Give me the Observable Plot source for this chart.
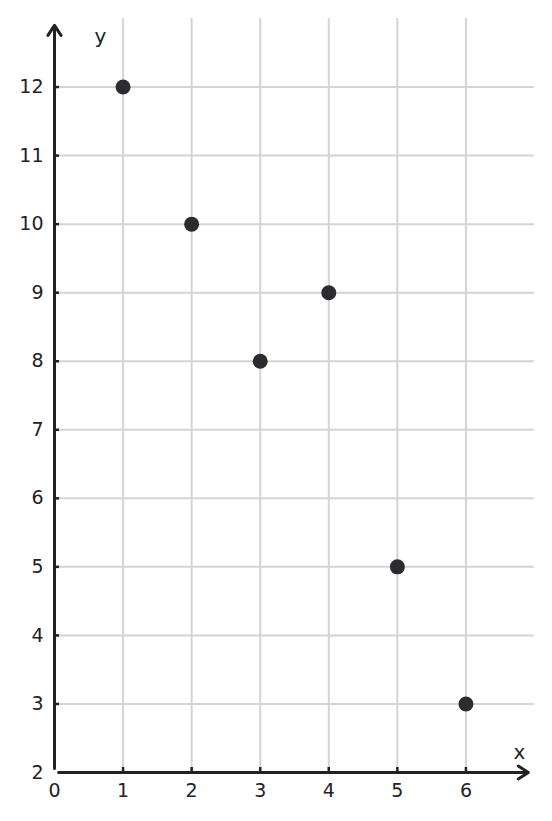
<!DOCTYPE html>
<html>
<head>
<meta charset="utf-8">
<script src="https://cdn.jsdelivr.net/npm/d3@7"></script>
<script src="https://cdn.jsdelivr.net/npm/@observablehq/plot@0.6"></script>
<style>
  html, body { margin: 0; padding: 0; background: #fff; }
  #chart svg { display: block; }
</style>
</head>
<body>
<div id="chart"></div>
<script>
// Data
const xs = [1, 2, 3, 4, 5, 6];
const ys = [12, 10, 8, 9, 5, 3];

// Tick labels / grid
const xTickLabels = [0, 1, 2, 3, 4, 5, 6];
const yTickLabels = [2, 3, 4, 5, 6, 7, 8, 9, 10, 11, 12];
const xGrid = [1, 2, 3, 4, 5, 6];
const yGrid = [3, 4, 5, 6, 7, 8, 9, 10, 11, 12];

// Domains and axis arrow extents
const xDomain = [0, 7];
const yDomain = [2, 13];
const xArrow = [0.06, 6.91];
const yArrow = [2.06, 12.9];
const axisTitles = [
  {x: 6.78, y: 2.29, text: "x"},
  {x: 0.67, y: 12.73, text: "y"}
];

const points = xs.map((x, i) => ({x, y: ys[i]}));
const ink = "#222226";
const font = "DejaVu Sans";

const chart = Plot.plot({
  width: 552,
  height: 821,
  marginLeft: 54,
  marginRight: 18,
  marginTop: 18,
  marginBottom: 49,
  style: {fontFamily: font, fontSize: "19px", color: ink, background: "#fff"},
  x: {domain: xDomain, axis: null},
  y: {domain: yDomain, axis: null},
  marks: [
    Plot.ruleX(xGrid, {x: d => d, y1: yDomain[0], y2: yDomain[1], stroke: "#d4d4d4", strokeWidth: 2}),
    Plot.ruleY(yGrid, {y: d => d, x1: xDomain[0], x2: xDomain[1], stroke: "#d4d4d4", strokeWidth: 2}),
    // inward tick marks
    Plot.axisX({ticks: xGrid, tickSize: -5, text: null, label: null, stroke: ink, strokeWidth: 2.5}),
    Plot.axisY({ticks: yGrid, tickSize: -5, text: null, label: null, stroke: ink, strokeWidth: 2.5}),
    // tick labels
    Plot.axisX({ticks: xTickLabels, tickSize: 0, tickPadding: 11, label: null, fill: ink, fontSize: 19, tickFormat: d => String(d)}),
    Plot.axisY({ticks: yTickLabels, tickSize: 0, tickPadding: 11, label: null, fill: ink, fontSize: 19, tickFormat: d => String(d)}),
    // axis lines with arrows
    Plot.arrow([0], {x1: xArrow[0], x2: xArrow[1], y1: yDomain[0], y2: yDomain[0], stroke: ink, strokeWidth: 3, headLength: 6, headAngle: 66}),
    Plot.arrow([0], {x1: xDomain[0], x2: xDomain[0], y1: yArrow[0], y2: yArrow[1], stroke: ink, strokeWidth: 3, headLength: 6, headAngle: 66}),
    Plot.text(axisTitles, {x: "x", y: "y", text: "text", fill: ink, fontSize: 20}),
    Plot.dot(points, {x: "x", y: "y", r: 7.5, fill: "#2b2b30", stroke: null})
  ]
});
document.getElementById("chart").appendChild(chart);
</script>
</body>
</html>
